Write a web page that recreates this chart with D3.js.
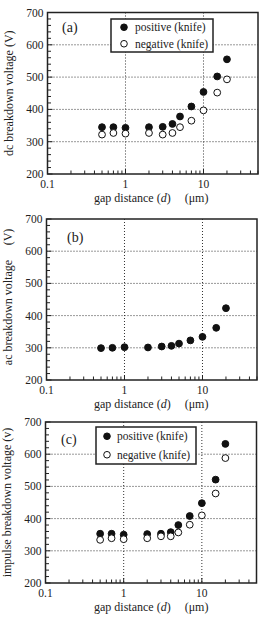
<!DOCTYPE html>
<html>
<head>
<meta charset="utf-8">
<script src="https://cdn.jsdelivr.net/npm/d3@7"></script>
<style>
  html, body { margin: 0; padding: 0; background: #fff; }
  svg text { font-family: "Liberation Serif", "DejaVu Serif", serif; fill: #222; }
</style>
</head>
<body>
<script>
// gap distances (um) and breakdown voltages (V)
const gapD = [0.5, 0.7, 1, 2, 3, 4, 5, 7, 10, 15, 20];
const dcPositive = [345, 345, 343, 345, 346, 355, 378, 409, 454, 502, 555];
const dcNegative = [322, 327, 325, 327, 322, 327, 345, 365, 397, 452, 493];
const acVoltage = [299, 300, 302, 301, 304, 306, 313, 323, 334, 362, 423];
const impPositive = [353, 353, 350, 352, 353, 358, 380, 408, 448, 521, 632];
const impNegative = [334, 339, 336, 339, 345, 345, 357, 381, 410, 478, 588];
const xTicks = [0.1, 1, 10];
const yTicks = [200, 300, 400, 500, 600, 700];
const legendLabels = ['positive (knife)', 'negative (knife)'];

const WIDTH = 260;
const HEIGHT = 631;

const svg = d3.select('body')
  .append('svg')
  .attr('width', WIDTH)
  .attr('height', HEIGHT);

const panels = [
  { tag: '(a)', top: 12.5, bottom: 174, left: 47.5, right: 258,
    yTitle: 'dc breakdown voltage  (V)',
    series: [{ values: dcPositive, filled: true }, { values: dcNegative, filled: false }],
    legend: { x: 111, y: 19, w: 102, h: 33, mark: 13, txt: 24 }, tagPos: [62, 32] },
  { tag: '(b)', top: 219, bottom: 380, left: 46.5, right: 257,
    yTitle: null,
    series: [{ values: acVoltage, filled: true }],
    legend: null, tagPos: [67, 242] },
  { tag: '(c)', top: 422, bottom: 583, left: 45.5, right: 256.5,
    yTitle: 'impulse breakdown voltage  (v)',
    series: [{ values: impPositive, filled: true }, { values: impNegative, filled: false }],
    legend: { x: 96, y: 427, w: 100, h: 37, mark: 11, txt: 21 }, tagPos: [61, 444] }
];

panels.forEach(drawPanel);

function drawPanel(p) {
  const g = svg.append('g');

  const x = d3.scaleLog().domain([0.1, 50]).range([p.left, p.right]);
  const y = d3.scaleLinear().domain([200, 700]).range([p.bottom, p.top]);

  // dotted grid
  g.selectAll('.vgrid')
    .data([1, 10])
    .enter()
    .append('line')
    .attr('x1', d => x(d)).attr('x2', d => x(d))
    .attr('y1', p.top).attr('y2', p.bottom)
    .attr('stroke', '#333')
    .attr('stroke-width', 1)
    .attr('stroke-dasharray', '1,2');

  g.selectAll('.hgrid')
    .data([300, 400, 500, 600])
    .enter()
    .append('line')
    .attr('x1', p.left).attr('x2', p.right)
    .attr('y1', d => y(d)).attr('y2', d => y(d))
    .attr('stroke', '#333')
    .attr('stroke-width', 1)
    .attr('stroke-dasharray', '1,2');

  // inside ticks, left side
  const yMinor = d3.range(200, 701, 20);
  g.selectAll('.ytick')
    .data(yMinor)
    .enter()
    .append('line')
    .attr('x1', p.left)
    .attr('x2', d => p.left + (d % 100 === 0 ? 5 : 3.5))
    .attr('y1', d => y(d)).attr('y2', d => y(d))
    .attr('stroke', '#222')
    .attr('stroke-width', 1);

  // inside ticks, bottom
  let xMinor = [];
  [0.1, 1, 10].forEach(dec => {
    for (let k = 1; k <= 9; k++) {
      if (dec * k <= 50) xMinor.push(dec * k);
    }
  });
  g.selectAll('.xtick')
    .data(xMinor)
    .enter()
    .append('line')
    .attr('x1', d => x(d)).attr('x2', d => x(d))
    .attr('y1', p.bottom)
    .attr('y2', (d, i) => p.bottom - (i % 9 === 0 ? 5 : 3.5))
    .attr('stroke', '#222')
    .attr('stroke-width', 1);

  // frame
  g.append('rect')
    .attr('x', p.left).attr('y', p.top)
    .attr('width', p.right - p.left)
    .attr('height', p.bottom - p.top)
    .attr('fill', 'none')
    .attr('stroke', '#222')
    .attr('stroke-width', 1.5);

  // tick labels
  g.selectAll('.ylab')
    .data(yTicks)
    .enter()
    .append('text')
    .attr('x', p.left - 4)
    .attr('y', d => y(d))
    .attr('dy', '0.35em')
    .attr('text-anchor', 'end')
    .attr('font-size', '11.5px')
    .text(d => d);

  g.selectAll('.xlab')
    .data(xTicks)
    .enter()
    .append('text')
    .attr('x', d => x(d))
    .attr('y', p.bottom + 14)
    .attr('text-anchor', 'middle')
    .attr('font-size', '11.5px')
    .text(d => d);

  // x title
  const xt = g.append('text')
    .attr('x', 94)
    .attr('y', p.bottom + 28)
    .attr('font-size', '12px');
  xt.append('tspan').text('gap distance (');
  xt.append('tspan').attr('font-style', 'italic').text('d');
  xt.append('tspan').text(')');
  xt.append('tspan').attr('dx', 14).text('(\u03bcm)');

  // y title
  const midY = (p.top + p.bottom) / 2;
  if (p.yTitle) {
    g.append('text')
      .attr('transform', `translate(${p.left - 35},${midY}) rotate(-90)`)
      .attr('text-anchor', 'middle')
      .attr('font-size', '12px')
      .text(p.yTitle);
  } else {
    g.append('text')
      .attr('transform', `translate(${p.left - 35},${midY + 13}) rotate(-90)`)
      .attr('text-anchor', 'middle')
      .attr('font-size', '12px')
      .text('ac breakdown voltage');
    g.append('text')
      .attr('transform', `translate(${p.left - 35},${p.top + 18}) rotate(-90)`)
      .attr('text-anchor', 'middle')
      .attr('font-size', '12px')
      .text('(V)');
  }

  // panel tag
  g.append('text')
    .attr('x', p.tagPos[0])
    .attr('y', p.tagPos[1])
    .attr('font-size', '14px')
    .text(p.tag);

  // legend
  if (p.legend) {
    const L = p.legend;
    g.append('rect')
      .attr('x', L.x).attr('y', L.y)
      .attr('width', L.w).attr('height', L.h)
      .attr('fill', '#fff')
      .attr('stroke', '#222')
      .attr('stroke-width', 1.5);
    const rowH = L.h / 2;
    legendLabels.forEach((lab, i) => {
      const cy = L.y + rowH * (i + 0.5);
      g.append('circle')
        .attr('cx', L.x + L.mark).attr('cy', cy).attr('r', 3.3)
        .attr('fill', i === 0 ? '#111' : '#fff')
        .attr('stroke', '#111').attr('stroke-width', 1);
      g.append('text')
        .attr('x', L.x + L.txt).attr('y', cy)
        .attr('dy', '0.35em')
        .attr('font-size', '11.5px')
        .text(lab);
    });
  }

  // data points
  p.series.forEach(s => {
    g.selectAll(null)
      .data(s.values)
      .enter()
      .append('circle')
      .attr('cx', (d, i) => x(gapD[i]))
      .attr('cy', d => y(d))
      .attr('r', 3.4)
      .attr('fill', s.filled ? '#111' : '#fff')
      .attr('stroke', '#111')
      .attr('stroke-width', 1);
  });
}
</script>
</body>
</html>
